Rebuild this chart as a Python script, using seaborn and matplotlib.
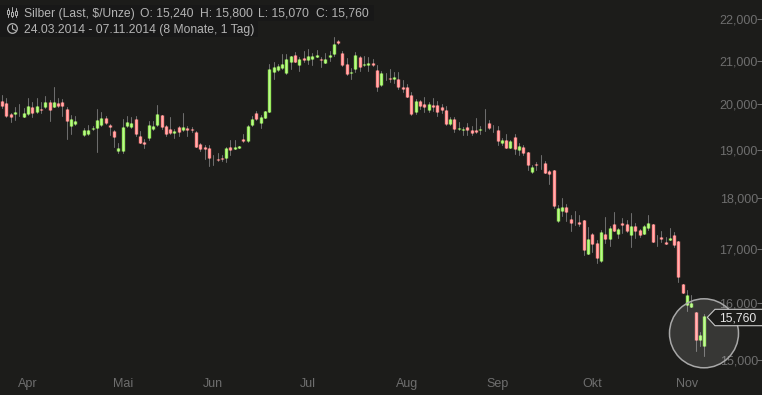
import numpy as np
import pandas as pd
import seaborn as sns
import matplotlib
matplotlib.use('Agg')
import matplotlib.pyplot as plt
from matplotlib.lines import Line2D
from matplotlib.patches import Circle, Polygon, Rectangle
from matplotlib.ticker import NullLocator
from matplotlib.transforms import Affine2D

# Tageskerzen Silber
opens = [20223,20070,20015,19774,19781,19781,19715,19766,19927,19832,
         19890,19942,20046,19942,20015,20038,19883,19504,19547,19650,
         19307,19328,19438,19460,19526,19693,19533,19409,18979,18972,
         19504,19482,19664,19299,19161,19241,19438,19533,19752,19518,
         19445,19350,19496,19416,19467,19445,19380,19117,19051,19029,
         18757,18799,18820,18813,19051,19022,19044,19226,19190,19526,
         19796,19569,19679,19832,20723,20769,20815,20700,20977,21128,
         20885,21064,21024,21048,21096,21040,20954,21096,21168,21464,
         21176,20915,20700,20792,21080,20885,20908,20946,20777,20423,
         20623,20600,20562,20569,20392,20385,20208,19832,20069,19993,
         19876,19978,19971,19927,19869,19562,19672,19453,19416,19489,
         19431,19431,19416,19518,19577,19474,19423,19153,19212,19044,
         19270,18993,19051,18944,18521,18688,18722,18722,18556,18577,
         17542,17738,17810,17581,17640,17523,17555,16907,17287,17111,
         16759,17287,17190,17483,17287,17503,17483,17268,17444,17366,
         17287,17405,17483,17209,17229,17131,17170,17268,17150,16346,
         15959,15930,15837,15338,15240]
highs = [20223,20208,20130,19810,19927,20000,19905,20130,20054,20130,
         20054,20185,20092,20385,20130,20115,19942,19759,19737,19650,
         19467,19540,19504,19890,19832,19723,19555,19431,19139,19672,
         19723,19701,19737,19394,19226,19613,19613,19978,19759,19540,
         19701,19445,19518,19803,19504,19489,19394,19153,19102,19102,
         18889,18924,18889,19066,19212,19212,19073,19343,19540,19723,
         19847,19759,19839,20923,20962,20923,21160,21160,21112,21200,
         21096,21232,21280,21176,21256,21096,21192,21216,21560,21496,
         21232,21064,20831,21200,21120,21112,21080,21040,20900,20762,
         20708,20808,20723,20738,20554,20454,20277,20115,20092,20162,
         20038,20138,20069,20000,19956,19701,19701,19599,19496,19584,
         19511,19679,19504,19890,19650,19540,19504,19248,19343,19212,
         19343,19146,19102,18944,18681,18736,18889,18757,18577,18577,
         17856,17987,17876,17660,17738,17660,17562,17418,17300,17157,
         17366,17614,17444,17719,17405,17601,17562,17699,17503,17385,
         17464,17660,17483,17268,17346,17229,17405,17326,17150,16346,
         16234,16142,15837,15476,15800]
lows = [19920,19920,19708,19591,19635,19723,19708,19759,19701,19810,
        19796,19920,19613,19942,19942,19737,19234,19343,19526,19635,
        19285,19314,19431,18958,19518,19555,19321,19066,18938,18938,
        19489,19467,19285,19139,19044,19197,19416,19518,19445,19299,
        19336,19241,19285,19409,19299,19372,19051,18979,18806,18646,
        18681,18750,18750,18729,18889,19015,19044,19175,19175,19504,
        19635,19467,19679,19832,20577,20746,20800,20692,20808,20969,
        20762,20977,20923,20885,21080,20838,20938,20992,21112,21384,
        20862,20669,20577,20723,20746,20877,20762,20877,20300,20400,
        20539,20492,20477,20346,20262,20162,19759,19781,19890,19832,
        19832,19854,19723,19810,19540,19540,19387,19431,19321,19321,
        19321,19358,19336,19409,19453,19372,19102,19102,19029,19029,
        18910,18889,18896,18577,18500,18577,18591,18500,18285,17804,
        17523,17640,17542,17346,17464,17444,16883,16901,16944,16735,
        16753,17111,17052,17333,17209,17307,17326,17032,17209,17229,
        17287,17366,17131,17052,17131,17091,17170,17032,16371,16167,
        15843,15930,15145,15244,15070]
closes = [19920,19956,19723,19701,19825,19766,19796,19949,19810,19949,
          19876,20038,19876,20038,19964,19964,19613,19664,19620,19635,
          19423,19423,19467,19642,19693,19569,19482,19263,19029,19496,
          19599,19577,19336,19153,19131,19533,19518,19774,19482,19328,
          19350,19401,19372,19496,19416,19416,19066,19007,19022,18833,
          18750,18785,18792,19029,19000,19058,19073,19190,19518,19664,
          19664,19708,19839,20800,20846,20877,20923,21032,21104,20977,
          21032,21015,21104,21104,21136,21024,21032,21136,21392,21408,
          20908,20677,20738,21128,20838,20923,20946,20908,20377,20708,
          20608,20569,20623,20377,20331,20169,19766,20062,19964,19934,
          20000,19934,19832,19869,19562,19672,19438,19474,19453,19416,
          19350,19372,19453,19504,19460,19460,19182,19204,19044,19190,
          19022,19080,18931,18681,18639,18667,18708,18514,18493,17836,
          17791,17810,17706,17503,17627,17483,16981,17190,17091,16827,
          17326,17190,17405,17346,17385,17464,17346,17444,17346,17268,
          17444,17503,17131,17196,17190,17091,17209,17072,16463,16167,
          16142,16000,15338,15436,15760]

price_ticks = [15000,16000,17000,18000,19000,20000,21000,22000]
price_labels = ['15,000','16,000','17,000','18,000','19,000','20,000','21,000','22,000']
month_pos = [7,29,50,72,95,116,138,160]
month_labels = ['Apr','Mai','Jun','Jul','Aug','Sep','Okt','Nov']
last_label = '15,760'

BG = '#1c1c1a'
UP = '#98ea5c'
UP_CORE = '#bdf592'
DOWN = '#ff8a8a'
DOWN_CORE = '#ffb0b0'
WICK = '#6c6c6c'
AXIS = '#6e6e6e'
TITLE = '#b4b4b4'

idx = np.arange(len(opens))
wicks = pd.DataFrame({'pos': np.repeat(idx, 2),
                      'price': np.column_stack([lows, highs]).ravel()})
bodies = pd.DataFrame({'pos': np.repeat(idx, 2),
                       'price': np.column_stack([opens, closes]).ravel(),
                       'dir': np.repeat(np.where(np.array(closes) >= np.array(opens), 'up', 'down'), 2)})

sns.set_theme(style='dark', rc={'axes.facecolor': BG, 'figure.facecolor': BG})
plt.rcParams['font.family'] = ['Liberation Sans', 'DejaVu Sans']

fig = plt.figure(figsize=(7.62, 3.95), dpi=100)
ax = fig.add_axes([0, 0, 1, 1])
ax.set_yscale('log')
ax.set_xlim(0.5, 177.4)
ax.set_ylim(14422, 22480)

sns.lineplot(data=wicks, x='pos', y='price', units='pos', estimator=None, color=WICK,
             linewidth=0.75, legend=False, ax=ax, zorder=2)
sns.lineplot(data=bodies, x='pos', y='price', units='pos', estimator=None, hue='dir',
             palette={'up': UP, 'down': DOWN}, linewidth=2.4, solid_capstyle='butt',
             legend=False, ax=ax, zorder=3)
sns.lineplot(data=bodies, x='pos', y='price', units='pos', estimator=None, hue='dir',
             palette={'up': UP_CORE, 'down': DOWN_CORE}, linewidth=0.72, solid_capstyle='butt',
             legend=False, ax=ax, zorder=3.5)

ax.set_xlabel('')
ax.set_ylabel('')
for s in ax.spines.values():
    s.set_visible(False)
ax.yaxis.set_minor_locator(NullLocator())
ax.yaxis.tick_right()
ax.set_yticks(price_ticks)
ax.set_yticklabels(price_labels, ha='right')
ax.set_xticks(month_pos)
ax.set_xticklabels(month_labels, va='bottom')
ax.tick_params(axis='y', direction='in', length=3.6, width=0.75, color=AXIS,
               labelcolor=AXIS, labelsize=9, pad=-3.0)
ax.tick_params(axis='x', direction='in', length=2.9, width=0.75, color=AXIS,
               labelcolor=AXIS, labelsize=9, pad=-3.8)
ax.grid(False)

# alles weitere in Bildpixeln, y nach unten
px = Affine2D().scale(1, -1).translate(0, 395)

fig.add_artist(Rectangle((0, 5), 374, 16, transform=px, fc='#181818', ec='none', zorder=1))
fig.add_artist(Rectangle((0, 21), 258, 16, transform=px, fc='#181818', ec='none', zorder=1))

title_parts = [(23.5, 'Silber (Last, $/Unze)'), (140.5, 'O: 15,240'), (199.5, 'H: 15,800'),
               (258, 'L: 15,070'), (316, 'C: 15,760')]
for x, s in title_parts:
    fig.text(x, 17, s, transform=px, color=TITLE, fontsize=8.7, zorder=5)
fig.text(23.5, 33, '24.03.2014 - 07.11.2014 (8 Monate, 1 Tag)', transform=px,
         color=TITLE, fontsize=8.7, zorder=5)

# Kerzen-Symbol
for x, y0, y1, b0, b1 in [(7.5, 8, 17, 10, 14), (11.5, 7, 17, 12, 16), (15.5, 8, 17, 11, 15)]:
    fig.add_artist(Line2D([x, x], [y0, y1], transform=px, color=TITLE, lw=0.7, zorder=5))
    fig.add_artist(Rectangle((x - 1, b0), 2, b1 - b0, transform=px, fc='#181818', ec=TITLE, lw=0.7, zorder=6))

# Uhr-Symbol
fig.add_artist(Circle((12.5, 28.5), 4.8, transform=px, fc='none', ec=TITLE, lw=0.9, zorder=5))
fig.add_artist(Line2D([12.5, 12.5, 15.5], [25.5, 29, 30.5], transform=px, color=TITLE, lw=0.8, zorder=5))

# Kreis um die letzte Kerze
fig.add_artist(Circle((704, 333.3), 34.5, transform=px, fc=(1, 1, 1, 0.12),
                      ec='#a8a8a8', lw=1.1, zorder=4))

# Kursfahne
fig.add_artist(Polygon([(707.3, 317.3), (715, 309.3), (763, 309.3), (763, 325.7), (715, 325.7)],
                       closed=True, transform=px, fc=BG, ec='#c8c8c8', lw=0.8, zorder=5))
fig.text(719.5, 321.5, last_label, transform=px, color='#e6e6e6', fontsize=8.7, zorder=6)

fig.savefig('out.png', dpi=100, facecolor=BG)
